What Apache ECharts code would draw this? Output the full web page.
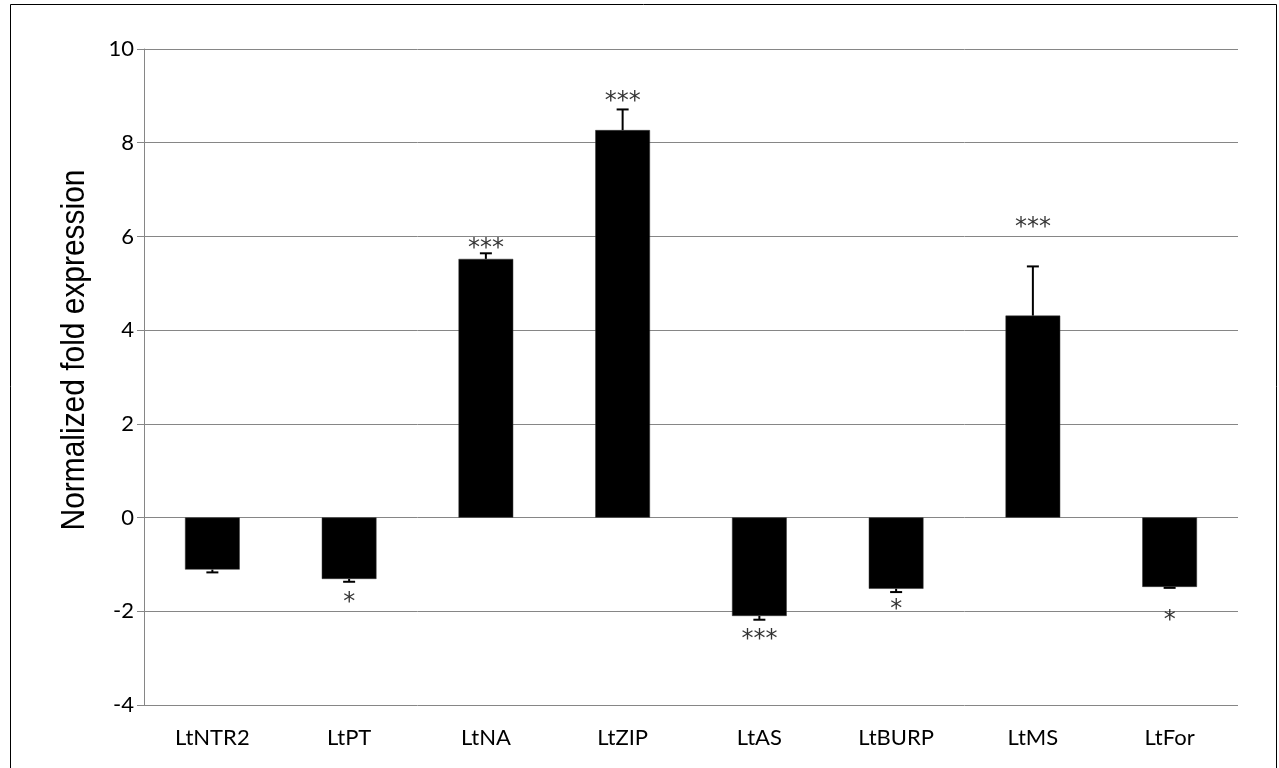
<!DOCTYPE html>
<html>
<head>
<meta charset="utf-8">
<script src="https://cdn.jsdelivr.net/npm/echarts@6/dist/echarts.min.js"></script>
<style>
  html, body { margin: 0; padding: 0; background: #fff; }
  #chart { width: 1279px; height: 768px; }
</style>
</head>
<body>
<div id="chart"></div>
<script>
// Genes measured
const categories = ['LtNTR2', 'LtPT', 'LtNA', 'LtZIP', 'LtAS', 'LtBURP', 'LtMS', 'LtFor'];
// Mean normalized fold expression
const foldValues = [-1.11, -1.31, 5.52, 8.27, -2.10, -1.52, 4.31, -1.48];
// End of each error bar (one-sided, away from zero)
const errorEnds = [-1.17, -1.37, 5.64, 8.71, -2.18, -1.59, 5.36, -1.50];
// Significance marks and where they sit on the value axis
const sigMarks = ['', '*', '***', '***', '***', '*', '***', '*'];
const sigLevels = [null, -1.71, 5.85, 8.98, -2.50, -1.86, 6.30, -2.09];
// Value-axis ticks
const yMin = -4, yMax = 10, yStep = 2;

const tickFont = 'Lato, "Open Sans", sans-serif';

const chart = echarts.init(document.getElementById('chart'));

const errorData = categories.map((c, i) => [i, foldValues[i], errorEnds[i]]);
const markData = categories.map((c, i) => ({
  value: [i, sigLevels[i] === null ? 0 : sigLevels[i]],
  label: { show: sigMarks[i] !== '', formatter: sigMarks[i] }
}));

chart.setOption({
  animation: false,
  backgroundColor: '#ffffff',
  grid: { left: 144, right: 41, top: 49, bottom: 63 },
  xAxis: {
    type: 'category',
    data: categories,
    axisLine: { show: false },
    axisTick: { show: false },
    axisLabel: { color: '#000', fontFamily: tickFont, fontSize: 22, margin: 22 }
  },
  yAxis: {
    type: 'value',
    min: yMin, max: yMax, interval: yStep,
    axisLine: { show: true, lineStyle: { color: '#868686', width: 1 } },
    axisTick: { show: true, length: 7, lineStyle: { color: '#868686' } },
    splitLine: { show: true, lineStyle: { color: '#868686', width: 1 } },
    axisLabel: { color: '#000', fontFamily: tickFont, fontSize: 22, margin: 10 }
  },
  graphic: [
    {
      type: 'rect', silent: true,
      shape: { x: 10.5, y: 4.5, width: 1266, height: 780 },
      style: { fill: 'none', stroke: '#000', lineWidth: 1 }
    },
    {
      type: 'text', silent: true,
      x: 75, y: 350, rotation: Math.PI / 2, scaleX: 0.88,
      style: {
        text: 'Normalized fold expression',
        font: '34px "Liberation Sans", Arial, sans-serif',
        fill: '#000', align: 'center', verticalAlign: 'middle'
      }
    }
  ],
  series: [
    {
      type: 'bar',
      data: foldValues,
      barWidth: '40%',
      itemStyle: { color: '#000', borderColor: '#333', borderWidth: 0.5 }
    },
    {
      type: 'custom',
      data: errorData,
      z: 5,
      renderItem: function (params, api) {
        const x = api.value(0);
        const p0 = api.coord([x, api.value(1)]);
        const p1 = api.coord([x, api.value(2)]);
        const half = 6;
        return {
          type: 'group',
          children: [
            { type: 'line', shape: { x1: p0[0], y1: p0[1], x2: p1[0], y2: p1[1] },
              style: { stroke: '#000', lineWidth: 2 } },
            { type: 'line', shape: { x1: p1[0] - half, y1: p1[1], x2: p1[0] + half, y2: p1[1] },
              style: { stroke: '#000', lineWidth: 2 } }
          ]
        };
      }
    },
    {
      type: 'scatter',
      data: markData,
      symbolSize: 0,
      z: 6,
      label: {
        show: true, position: 'inside', color: '#000', offset: [0, 5],
        fontFamily: '"DejaVu Sans", sans-serif', fontSize: 24
      }
    }
  ]
});
</script>
</body>
</html>
